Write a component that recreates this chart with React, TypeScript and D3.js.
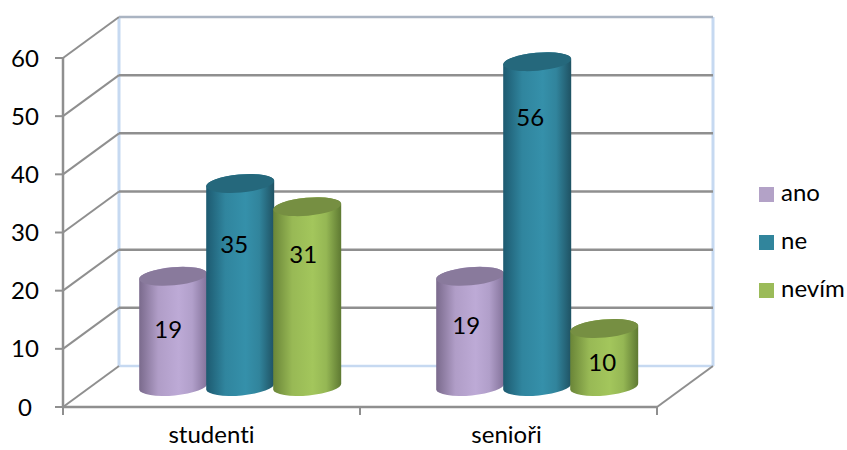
import React from "react";
import * as d3 from "d3";

const categories = ["studenti", "senioři"];
const seriesNames = ["ano", "ne", "nevím"];
const anoValues = [19, 19];
const neValues = [35, 56];
const nevimValues = [31, 10];
const yTicks = [0, 10, 20, 30, 40, 50, 60];

// Colour ramps for each series: cylinder edge, highlight, far edge, lid, legend swatch.
const ramps = [
  { left: "#7a6a8c", mid: "#bdaad6", right: "#83729a", lid: "#897a9c", swatch: "#b3a2c7" },
  { left: "#1d5a70", mid: "#3590aa", right: "#1f5263", lid: "#25687c", swatch: "#31859c" },
  { left: "#6a8538", mid: "#a3c65c", right: "#5e7932", lid: "#768f42", swatch: "#9bbb59" },
];

// Hand-placed data label shifts (dx, dy) from each cylinder's centre, by series then category.
const labelShift = [
  [[-5, -2], [-4, -6]],
  [[-6, -41], [-7, -107]],
  [[-4, -42], [-2, 5]],
];

const W = 847;
const H = 450;
const frontLeft = 63;
const frontRight = 657;
const depthX = 56;
const depthY = 41;
const floorFront = 407;
const topFront = 58;
const cylBase = 386.5;
const fontSize = 24;
const font = "Lato, 'Open Sans', sans-serif";
const gridColor = "#8f8f8f";
const wallColor = "#c6d9f1";

const yFront = d3.scaleLinear().domain([0, 60]).range([floorFront, topFront]);
const yHeight = d3.scaleLinear().domain([0, 60]).range([cylBase, cylBase - 348]);
const xGroup = d3.scaleBand<string>().domain(categories).range([frontLeft, frontRight]);
const xSeries = d3.scaleBand<string>().domain(seriesNames).range([-100.5, 100.5]);

const rx = 34;
const ry = 9;
const tilt = -5;
const edgeDy = 3.2;

function barCentre(category: string, series: string) {
  return xGroup(category)! + xGroup.bandwidth() / 2 + depthX / 2 + 0.7 + xSeries(series)! + xSeries.bandwidth() / 2;
}

function Cylinder({ cx, value, index }: { cx: number; value: number; index: number }) {
  const topY = yHeight(value);
  const x0 = cx - rx;
  const x1 = cx + rx;
  const body =
    `M${x0},${topY + edgeDy} L${x0},${cylBase + edgeDy} ` +
    `A${rx},${ry} ${tilt} 0 0 ${x1},${cylBase - edgeDy} ` +
    `L${x1},${topY - edgeDy} ` +
    `A${rx},${ry} ${tilt} 0 0 ${x0},${topY + edgeDy} Z`;
  return (
    <g>
      <path d={body} fill={`url(#cyl${index})`} />
      <ellipse
        cx={cx}
        cy={topY}
        rx={rx}
        ry={ry}
        transform={`rotate(${tilt} ${cx} ${topY})`}
        fill={ramps[index].lid}
      />
    </g>
  );
}

export default function App() {
  const allValues = [anoValues, neValues, nevimValues];
  const textProps = {
    fontFamily: font,
    fontSize,
    fill: "#000",
    style: { fontVariantLigatures: "none" as const },
  };
  return (
    <svg width={W} height={H} style={{ position: "absolute", left: 0, top: 0, background: "#fff" }}>
      <defs>
        {ramps.map((r, i) => (
          <linearGradient id={`cyl${i}`} key={i} x1="0" x2="1" y1="0" y2="0">
            <stop offset="0" stopColor={r.left} />
            <stop offset="0.28" stopColor={d3.interpolateRgb(r.left, r.mid)(0.8)} />
            <stop offset="0.58" stopColor={r.mid} />
            <stop offset="0.78" stopColor={d3.interpolateRgb(r.right, r.mid)(0.8)} />
            <stop offset="1" stopColor={r.right} />
          </linearGradient>
        ))}
      </defs>

      {/* back wall edges */}
      <line x1={frontLeft + depthX} x2={frontLeft + depthX} y1={yFront(60) - depthY} y2={floorFront - depthY} stroke={wallColor} strokeWidth={3} />
      <line x1={frontRight + depthX} x2={frontRight + depthX} y1={yFront(60) - depthY} y2={floorFront - depthY} stroke={wallColor} strokeWidth={3} />
      <line x1={frontLeft + depthX} x2={frontRight + depthX} y1={floorFront - depthY} y2={floorFront - depthY} stroke={wallColor} strokeWidth={2.5} />

      {/* gridlines along the side wall and back wall */}
      {yTicks.map((t) => {
        const y = yFront(t);
        const isBase = t === 0;
        return (
          <g key={t}>
            <line x1={frontLeft} y1={y} x2={frontLeft + depthX} y2={y - depthY} stroke={gridColor} strokeWidth={2} />
            {!isBase && (
              <line
                x1={frontLeft + depthX}
                x2={frontRight + depthX}
                y1={y - depthY}
                y2={y - depthY}
                stroke={t === 60 ? "#aab4c2" : gridColor}
                strokeWidth={2.5}
              />
            )}
            <line x1={frontLeft - 8} x2={frontLeft} y1={y} y2={y} stroke={gridColor} strokeWidth={2} />
            <text x={frontLeft - 38} y={y + 8.5} textAnchor="middle" {...textProps}>
              {t}
            </text>
          </g>
        );
      })}

      {/* floor and front axes */}
      <line x1={frontRight} y1={floorFront} x2={frontRight + depthX} y2={floorFront - depthY} stroke={gridColor} strokeWidth={2} />
      <line x1={frontLeft} x2={frontRight} y1={floorFront} y2={floorFront} stroke={gridColor} strokeWidth={2.5} />
      <line x1={frontLeft} x2={frontLeft} y1={yFront(60)} y2={floorFront} stroke={gridColor} strokeWidth={2.5} />
      {[frontLeft, xGroup(categories[1])!, frontRight].map((x) => (
        <line key={x} x1={x} x2={x} y1={floorFront} y2={floorFront + 8} stroke={gridColor} strokeWidth={2} />
      ))}

      {/* cylinders, drawn left to right so each overlaps the previous one */}
      {categories.map((c, ci) =>
        seriesNames.map((s, si) => (
          <Cylinder key={c + s} cx={barCentre(c, s)} value={allValues[si][ci]} index={si} />
        ))
      )}

      {/* data labels */}
      {categories.map((c, ci) =>
        seriesNames.map((s, si) => {
          const v = allValues[si][ci];
          const midY = (yHeight(v) + cylBase) / 2;
          const [dx, dy] = labelShift[si][ci];
          return (
            <text key={c + s} x={barCentre(c, s) + dx} y={midY + dy + 8.5} textAnchor="middle" {...textProps}>
              {v}
            </text>
          );
        })
      )}

      {/* category labels */}
      {categories.map((c, i) => (
        <text key={c} x={xGroup(c)! + xGroup.bandwidth() / 2 - (i ? 2 : 0)} y={H - 7} textAnchor="middle" {...textProps}>
          {c}
        </text>
      ))}

      {/* legend */}
      {seriesNames.map((s, i) => (
        <g key={s} transform={`translate(759, ${187 + i * 48})`}>
          <rect width={15} height={15} fill={ramps[i].swatch} />
          <text x={22} y={14} {...textProps}>
            {s}
          </text>
        </g>
      ))}
    </svg>
  );
}
